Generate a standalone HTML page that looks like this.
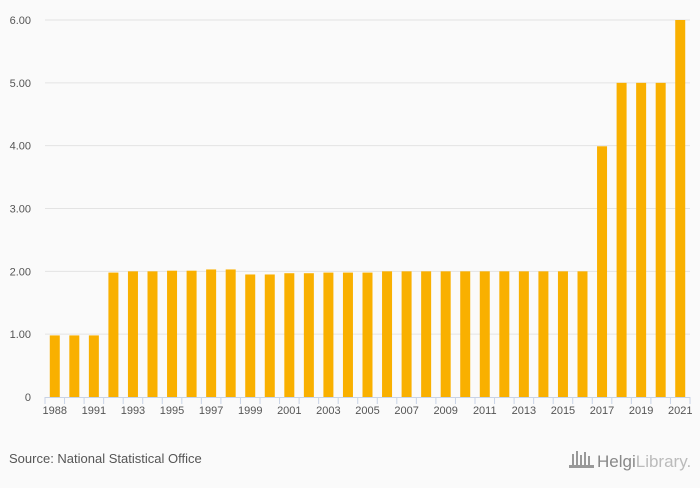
<!DOCTYPE html>
<html><head><meta charset="utf-8"><style>
body{margin:0;background:#fafafa;font-family:"Liberation Sans",sans-serif;}
svg text{font-family:"Liberation Sans",sans-serif;}
</style></head><body>
<svg width="700" height="483">
<rect width="700" height="483" fill="#fafafa"/>
<g id="grid"></g><g id="bars"></g><g id="xaxis"></g>
<text x="9" y="463" font-size="13" fill="#555">Source: National Statistical Office</text>
<g>
<g fill="#999"><rect x="572" y="454" width="2" height="12"/><rect x="576" y="451" width="2" height="15"/><rect x="580" y="455" width="2" height="11"/><rect x="584" y="452" width="2" height="14"/><rect x="588" y="456" width="2" height="10"/><rect x="569" y="465" width="25" height="3"/></g>
<text x="597" y="467" font-size="17" fill="#888">Helgi<tspan fill="#bbb">Library.</tspan></text>
</g>
</svg>
<script>
const years=[1988,1990,1991,1992,1993,1994,1995,1996,1997,1998,1999,2000,2001,2002,2003,2004,2005,2006,2007,2008,2009,2010,2011,2012,2013,2014,2015,2016,2017,2018,2019,2020,2021];
const values=[0.98,0.98,0.98,1.98,2.00,2.00,2.01,2.01,2.03,2.03,1.95,1.95,1.97,1.97,1.98,1.98,1.98,2.00,2.00,2.00,2.00,2.00,2.00,2.00,2.00,2.00,2.00,2.00,3.99,5.00,5.00,5.00,6.00];
const yTicks=[0,1,2,3,4,5,6];
const yTickLabels=["0","1.00","2.00","3.00","4.00","5.00","6.00"];
const xLabelYears=[1988,1991,1993,1995,1997,1999,2001,2003,2005,2007,2009,2011,2013,2015,2017,2019,2021];
const NS="http://www.w3.org/2000/svg";
const x0=45,x1=690,yTop=20,yBot=397,ymax=6;
const bw=(x1-x0)/years.length;
const y=v=>yBot-(v/ymax)*(yBot-yTop);
const xc=i=>x0+bw*(i+0.5);
function mk(tag,attrs,parent){const e=document.createElementNS(NS,tag);for(const k in attrs)e.setAttribute(k,attrs[k]);parent.appendChild(e);return e;}
const grid=document.getElementById('grid'),bars=document.getElementById('bars'),xa=document.getElementById('xaxis');
yTicks.forEach((t,i)=>{
 if(t>0){const l=mk('line',{x1:x0,x2:x1,y1:y(t),y2:y(t),stroke:'#e3e3e3'},grid);
 
 }
 const tx=mk('text',{x:31,y:y(t)+4,'font-size':11,fill:'#555','text-anchor':'end'},grid);
 tx.textContent=yTickLabels[i];
 
 
});
values.forEach((v,i)=>{
 const r=mk('rect',{x:xc(i)-5,y:y(v),width:10,height:yBot-y(v),fill:'#f9b000'},bars);
 
 
});
const ax=mk('line',{x1:x0,x2:x1,y1:yBot+0.5,y2:yBot+0.5,stroke:'#c8d3e6'},xa);


for(let i=0;i<=years.length;i++){
 mk('line',{x1:x0+bw*i,x2:x0+bw*i,y1:yBot,y2:yBot+7,stroke:'#c8d3e6'},xa);
}
years.forEach((yr,i)=>{
 if(xLabelYears.indexOf(yr)<0)return;
 const t=mk('text',{x:xc(i),y:yBot+17,'font-size':11,fill:'#555','text-anchor':'middle'},xa);
 t.textContent=yr;
 
 
});
</script>
</body></html>
